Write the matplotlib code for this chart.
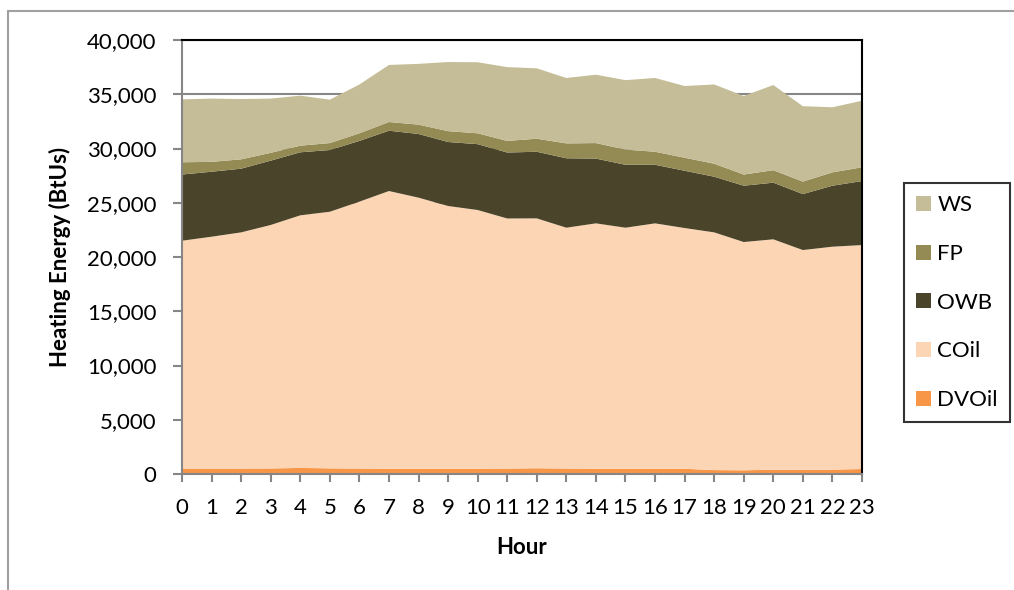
import matplotlib.pyplot as plt
from matplotlib.patches import Patch, Rectangle
from matplotlib.ticker import FuncFormatter

plt.rcParams['font.family'] = ['Lato', 'DejaVu Sans']

hours = list(range(24))

# heating energy per source, BtUs (stacked bottom to top)
dvoil = [500, 500, 500, 510, 560, 520, 500, 490, 480, 480, 490, 500,
         530, 500, 490, 490, 490, 480, 360, 340, 400, 380, 400, 460]
coil = [21000, 21370, 21770, 22440, 23280, 23650, 24600, 25590, 24990, 24220, 23840, 23050,
        23030, 22200, 22610, 22210, 22610, 22190, 21910, 21040, 21230, 20260, 20550, 20640]
owb = [6100, 5990, 5870, 5930, 5810, 5690, 5600, 5560, 5870, 5900, 6070, 6080,
       6140, 6400, 5970, 5800, 5400, 5280, 5130, 5190, 5220, 5160, 5620, 5900]
fp = [1130, 910, 860, 720, 610, 640, 700, 800, 860, 1000, 1000, 1070,
      1200, 1370, 1430, 1400, 1200, 1200, 1200, 1030, 1150, 1150, 1230, 1270]
ws = [5800, 5830, 5560, 5000, 4610, 4000, 4500, 5260, 5600, 6370, 6550, 6800,
      6490, 6030, 6300, 6400, 6800, 6610, 7300, 7240, 7850, 6950, 6000, 6130]

labels = ['DVOil', 'COil', 'OWB', 'FP', 'WS']
colors = ['#F79646', '#FCD5B5', '#4A452A', '#948A54', '#C4BD97']

fig = plt.figure(figsize=(10.14, 5.90), dpi=100)
ax = fig.add_axes([182 / 1014, 116 / 590, 680 / 1014, 434 / 590])

ax.stackplot(hours, dvoil, coil, owb, fp, ws, colors=colors, linewidth=0)

ax.set_xlim(0, 23)
ax.set_ylim(0, 40000)
ax.set_xticks(hours)
ax.set_yticks(range(0, 40001, 5000))
ax.yaxis.set_major_formatter(FuncFormatter(lambda v, p: f'{int(v):,}'))

ax.set_axisbelow(True)
ax.grid(axis='y', color='#868686', linewidth=1.5)

for side in ['left', 'bottom']:
    ax.spines[side].set_color('#868686')
    ax.spines[side].set_linewidth(1.5)
for side in ['top', 'right']:
    ax.spines[side].set_color('black')
    ax.spines[side].set_linewidth(1.5)

ax.tick_params(axis='y', length=6.5, width=1.5, color='#868686', labelsize=16, pad=12)
ax.tick_params(axis='x', length=6, width=1.5, color='#868686', labelsize=16, pad=11)

ax.set_ylabel('Heating Energy (BtUs)', fontsize=16, fontweight='bold', va='center')
ax.yaxis.set_label_coords(-0.179, 0.5)
ax.set_xlabel('Hour', fontsize=16, fontweight='bold', va='center')
ax.xaxis.set_label_coords(0.5, -0.1705)

handles = [Patch(facecolor=c, edgecolor='none') for c in colors][::-1]
leg = fig.legend(handles, labels[::-1], loc='upper left',
                 bbox_to_anchor=(904 / 1014, 1 - 183 / 590), fontsize=16,
                 frameon=True, fancybox=False, edgecolor='black',
                 handlelength=0.65, handleheight=0.65, handletextpad=0.3,
                 borderpad=0.55, labelspacing=1.29, borderaxespad=0)
leg.get_frame().set_linewidth(1.5)

# outer chart frame
fig.patches.append(Rectangle((8 / 1014, -0.5), 2, 1 - 11 / 590 + 0.5,
                             transform=fig.transFigure, fill=False,
                             edgecolor='#A0A0A0', linewidth=1.5))

fig.savefig('out.png', dpi=100)
